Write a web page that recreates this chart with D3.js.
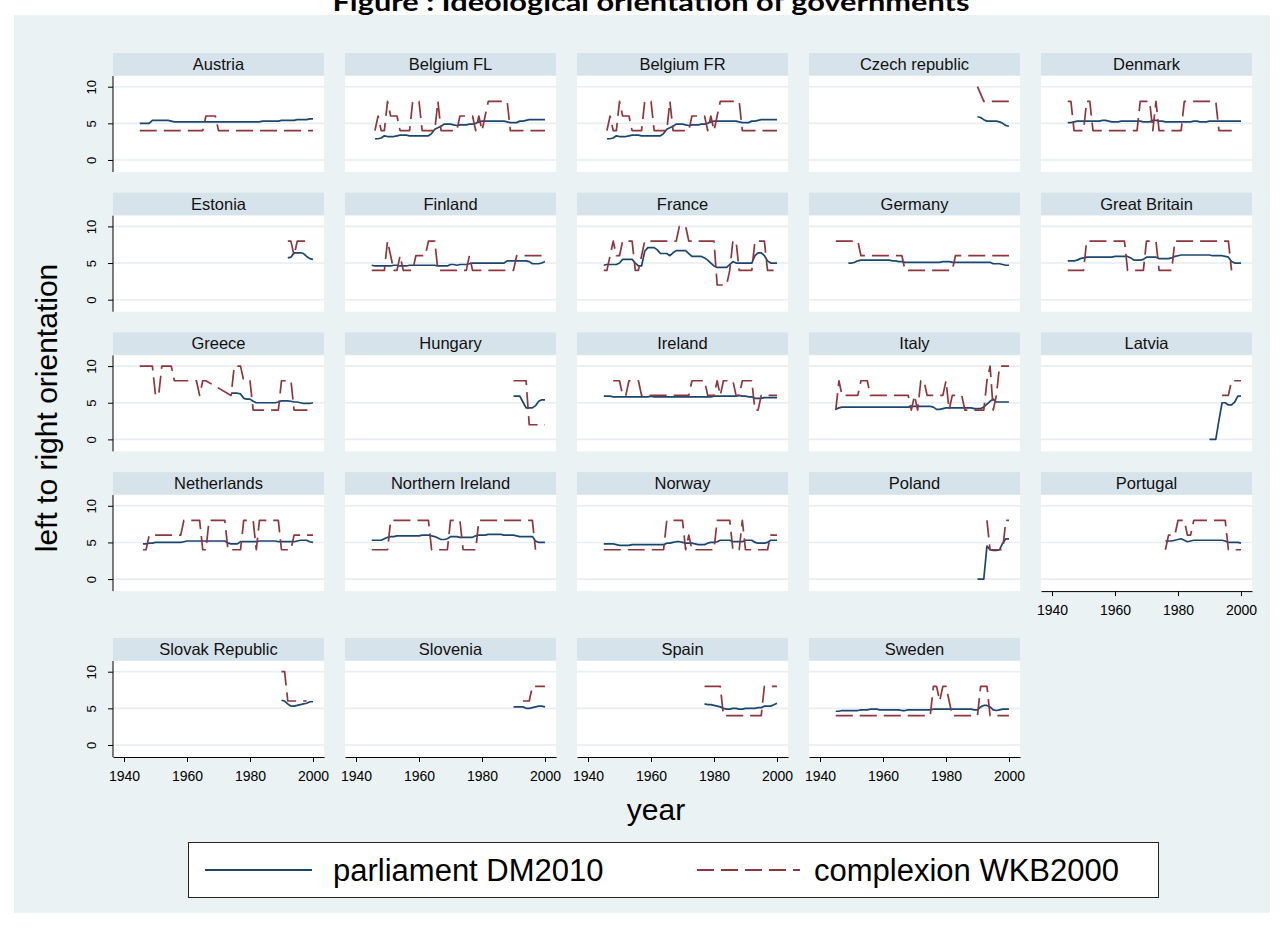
<!DOCTYPE html>
<html><head><meta charset="utf-8">
<script src="https://cdn.jsdelivr.net/npm/d3@7"></script>
<style>body{margin:0;background:#fff;}svg{display:block;}</style>
</head><body>
<svg id="chart" width="1282" height="937"></svg>
<script>
// ---------------- DATA ----------------
const countries = ["Austria","Belgium FL","Belgium FR","Czech republic","Denmark",
  "Estonia","Finland","France","Germany","Great Britain",
  "Greece","Hungary","Ireland","Italy","Latvia",
  "Netherlands","Northern Ireland","Norway","Poland","Portugal",
  "Slovak Republic","Slovenia","Spain","Sweden"];
const parliamentStart = [1945,1946,1946,1990,1945, 1992,1945,1945,1949,1945, 1974,1990,1945,1945,1990, 1946,1945,1945,1990,1976, 1990,1990,1977,1945];
const complexionStart = [1945,1946,1946,1990,1945, 1992,1945,1945,1945,1945, 1945,1990,1948,1945,1994, 1946,1945,1945,1993,1976, 1990,1993,1977,1945];
const xTickYears = [1940,1960,1980,2000];
const yTickValues = [0,5,10];
const legendLabels = ["parliament DM2010","complexion WKB2000"];
const yAxisTitle = "left to right orientation";
const xAxisTitle = "year";
const chartTitle = "Figure : Ideological orientation of governments";

// parliament DM2010 (one value per year from parliamentStart)
const parlAustria = [5.0,5.0,5.0,5.0,5.4, 5.4,5.4,5.4,5.4,5.4, 5.3,5.2,5.2,5.2,5.2, 5.2,5.2,5.2,5.2,5.2,
  5.2,5.2,5.2,5.2,5.2, 5.2,5.2,5.2,5.2,5.2, 5.2,5.2,5.2,5.2,5.2, 5.2,5.2,5.2,5.2,5.3,
  5.3,5.3,5.3,5.3,5.3, 5.4,5.4,5.4,5.4,5.4, 5.5,5.5,5.5,5.5,5.6, 5.6];
const parlBelgiumFL = [2.9,2.9,3.0,3.3,3.2, 3.2,3.2,3.3,3.4,3.4, 3.4,3.3,3.3,3.3,3.3, 3.3,3.3,3.3,3.6,4.2,
  4.4,4.6,4.9,4.9,4.9, 4.8,4.7,4.8,4.8,4.8, 4.9,4.9,5.0,5.2,5.3, 5.3,5.3,5.3,5.3,5.3,
  5.3,5.3,5.2,5.1,5.1, 5.1,5.3,5.3,5.4,5.5, 5.5,5.5,5.5,5.5,5.5];
const parlBelgiumFR = [2.9,2.9,3.0,3.3,3.2, 3.2,3.2,3.3,3.4,3.4, 3.4,3.3,3.3,3.3,3.3, 3.3,3.3,3.3,3.6,4.2,
  4.4,4.6,4.9,4.9,4.9, 4.8,4.7,4.8,4.8,4.8, 4.9,4.9,5.0,5.2,5.3, 5.3,5.3,5.3,5.3,5.3,
  5.3,5.3,5.2,5.1,5.1, 5.1,5.3,5.3,5.4,5.5, 5.5,5.5,5.5,5.5,5.5];
const parlCzech = [5.9,5.8,5.5,5.3,5.3, 5.3,5.3,5.2,5.0,4.7, 4.6];
const parlDenmark = [5.1,5.1,5.2,5.3,5.3, 5.3,5.3,5.3,5.3,5.3, 5.3,5.4,5.4,5.3,5.2, 5.2,5.2,5.3,5.3,5.3,
  5.3,5.3,5.3,5.3,5.2, 5.2,5.2,5.4,5.4,5.3, 5.3,5.2,5.2,5.2,5.2, 5.2,5.2,5.2,5.2,5.2,
  5.3,5.3,5.2,5.2,5.2, 5.3,5.3,5.3,5.3,5.3, 5.3,5.3,5.3,5.3,5.3, 5.3];
const parlEstonia = [5.7,5.8,6.4,6.4,6.4, 6.3,5.9,5.6,5.5];
const parlFinland = [4.7,4.6,4.6,4.6,4.6, 4.6,4.6,4.7,4.7,4.6, 4.6,4.6,4.7,4.7,4.7, 4.7,4.7,4.7,4.7,4.7,
  4.7,4.6,4.6,4.6,4.6, 4.8,4.8,4.7,4.8,4.8, 4.8,4.9,5.0,5.0,5.0, 5.0,5.0,5.0,5.0,5.0,
  5.0,5.0,5.0,5.3,5.3, 5.3,5.3,5.3,5.3,5.3, 5.2,4.9,4.9,4.9,5.0, 5.2];
const parlFrance = [4.7,4.8,4.8,4.8,4.8, 5.0,5.5,5.5,5.5,5.5, 5.0,4.6,4.6,6.6,7.1, 7.1,7.1,6.8,6.3,6.3,
  6.3,6.0,6.4,6.7,6.7, 6.7,6.7,6.3,5.9,5.9, 5.9,5.9,5.7,5.4,5.0, 4.6,4.4,4.4,4.4,4.4,
  4.8,5.2,5.0,5.0,5.0, 5.0,5.0,5.0,6.0,6.4, 6.4,6.0,5.3,5.0,5.0, 5.0];
const parlGermany = [5.0,5.0,5.1,5.3,5.4, 5.4,5.4,5.4,5.4,5.4, 5.4,5.4,5.4,5.4,5.3, 5.3,5.2,5.2,5.1,5.1,
  5.1,5.1,5.1,5.1,5.1, 5.1,5.1,5.1,5.1,5.1, 5.2,5.2,5.2,5.1,5.1, 5.1,5.1,5.1,5.1,5.1,
  5.1,5.1,5.1,5.1,5.1, 5.1,4.9,4.9,4.9,4.8, 4.7,4.7];
const parlGreatBritain = [5.3,5.3,5.3,5.4,5.6, 5.7,5.8,5.8,5.8,5.8, 5.8,5.8,5.8,5.8,5.8, 5.9,5.9,5.9,5.9,5.9,
  5.7,5.4,5.4,5.4,5.5, 5.8,5.8,5.8,5.8,5.6, 5.6,5.6,5.6,5.7,5.9, 6.0,6.1,6.1,6.1,6.1,
  6.1,6.1,6.1,6.1,6.1, 6.1,6.0,6.0,6.0,6.0, 5.9,5.8,5.2,5.0,5.0, 5.0];
const parlGreece = [6.3,6.3,6.3,6.2,5.6, 5.5,5.5,5.2,5.0,5.0, 5.0,5.0,5.0,5.0,5.0, 5.1,5.25,5.25,5.25,5.2,
  5.1,5.1,5.0,4.9,4.9, 4.9,5.0];
const parlHungary = [5.9,5.9,5.9,5.1,4.3, 4.3,4.3,4.6,5.2,5.4, 5.4];
const parlIreland = [5.9,5.9,5.9,5.8,5.8, 5.8,5.8,5.8,5.8,5.8, 5.8,5.8,5.8,5.8,5.8, 5.9,5.8,5.8,5.8,5.8,
  5.8,5.8,5.8,5.8,5.8, 5.8,5.8,5.8,5.8,5.8, 5.8,5.8,5.8,5.8,5.8, 5.9,5.9,5.9,5.9,5.9,
  5.9,5.9,5.9,6.0,5.9, 5.9,5.8,5.8,5.6,5.6, 5.6,5.7,5.7,5.7,5.7, 5.7];
const parlItaly = [4.1,4.3,4.4,4.4,4.4, 4.4,4.4,4.4,4.4,4.4, 4.4,4.4,4.4,4.4,4.4, 4.4,4.4,4.4,4.4,4.4,
  4.4,4.4,4.4,4.4,4.5, 4.5,4.5,4.5,4.5,4.5, 4.5,4.4,4.1,4.1,4.2, 4.3,4.3,4.3,4.3,4.3,
  4.3,4.3,4.3,4.3,4.2, 4.2,4.2,4.4,4.8,5.2, 5.5,5.1,5.1,5.1,5.1, 5.1];
const parlLatvia = [0,0,0,2.6,5.0, 5.0,4.7,4.7,5.1,5.9, 5.9];
const parlNetherlands = [4.8,4.8,4.9,4.9,5.0, 5.0,5.0,5.0,5.0,5.0, 5.0,5.0,5.0,5.1,5.2, 5.2,5.2,5.2,5.2,5.2,
  5.2,5.2,5.2,5.2,5.2, 5.2,5.2,4.9,4.8,4.8, 4.8,5.1,5.1,5.1,5.1, 5.1,5.1,5.2,5.2,5.2,
  5.2,5.2,5.2,5.1,5.1, 5.1,5.1,5.1,5.1,5.2, 5.3,5.3,5.3,5.1,5.0];
const parlNorthernIreland = [5.3,5.3,5.3,5.3,5.5, 5.7,5.8,5.8,5.9,5.9, 5.9,5.9,5.9,5.9,5.9, 5.9,6.0,6.0,6.0,5.9,
  5.8,5.6,5.4,5.4,5.5, 5.8,5.8,5.8,5.7,5.7, 5.7,5.7,5.7,5.9,6.0, 6.0,6.0,6.1,6.1,6.1,
  6.1,6.1,6.0,6.0,6.0, 6.0,5.9,5.8,5.8,5.8, 5.8,5.8,5.2,5.0,5.0, 5.0];
const parlNorway = [4.8,4.8,4.8,4.8,4.7, 4.6,4.6,4.6,4.6,4.7, 4.7,4.7,4.7,4.7,4.7, 4.7,4.7,4.7,4.7,4.7,
  4.9,4.9,5.0,5.1,5.1, 5.0,4.9,4.9,4.9,4.8, 4.7,4.7,4.7,4.9,5.0, 5.0,5.1,5.3,5.3,5.3,
  5.3,5.1,5.1,5.1,5.1, 5.3,5.3,5.3,5.0,4.9, 4.9,4.9,5.0,5.3,5.3, 5.3];
const parlPoland = [0,0,0,4.5,4.0, 3.9,3.9,4.0,4.9,5.5, 5.5];
const parlPortugal = [5.2,5.2,5.2,5.3,5.4, 5.5,5.3,5.1,5.2,5.3, 5.3,5.3,5.3,5.3,5.3, 5.3,5.3,5.3,5.3,5.2,
  5.0,5.0,5.0,5.0,4.9];
const parlSlovak = [6.1,6.0,5.6,5.3,5.3, 5.4,5.5,5.6,5.7,5.9, 5.9];
const parlSlovenia = [5.2,5.2,5.2,5.2,5.0, 5.0,5.1,5.2,5.3,5.3, 5.2];
const parlSpain = [5.6,5.5,5.5,5.4,5.3, 5.2,5.0,4.9,4.9,5.0, 5.0,4.9,4.9,5.0,5.0, 5.0,5.0,5.1,5.1,5.3,
  5.3,5.3,5.5,5.7];
const parlSweden = [4.6,4.6,4.7,4.7,4.7, 4.7,4.7,4.7,4.8,4.8, 4.8,4.9,4.9,4.9,4.8, 4.8,4.8,4.8,4.8,4.8,
  4.8,4.7,4.7,4.8,4.8, 4.8,4.8,4.8,4.8,4.8, 4.8,4.9,4.9,4.9,4.9, 4.9,4.9,4.9,4.9,4.9,
  4.9,4.9,4.9,4.9,4.8, 4.8,5.2,5.4,5.4,5.2, 4.8,4.7,4.8,4.9,4.9, 4.9];

// complexion WKB2000 (one value per year from complexionStart; null = missing)
const compAustria = [4,4,4,4,4, 4,4,4,4,4, 4,4,4,4,4, 4,4,4,4,4, 4,6,6,6,6, 4,4,4,4,4,
  4,4,4,4,4, 4,4,4,4,4, 4,4,4,4,4, 4,4,4,4,4, 4,4,4,4,4, 4];
const compBelgiumFL = [4,6,4,4,8, 6,6,6,4,4, 4,4,8,8,8, 4,4,4,4,4, 8,4,4,4,4, 4,4,6,6,6,
  6,6,4,6,4, 6,8,8,8,8, 8,8,8,4,4, 4,4,4,4,4, 4,4,4,4,4];
const compBelgiumFR = [4,6,4,4,8, 6,6,6,4,4, 4,4,8,8,8, 4,4,4,4,4, 8,4,4,4,4, 4,4,6,6,6,
  6,6,4,6,4, 6,8,8,8,8, 8,8,8,4,4, 4,4,4,4,4, 4,4,4,4,4];
const compCzech = [10,null,8,8,8, 8,8,8,8,8, 8];
const compDenmark = [8,8,4,4,4, 4,8,8,4,4, 4,4,4,4,4, 4,4,4,4,4, 4,4,4,8,8, 8,8,4,8,4,
  4,4,4,4,4, 4,4,8,8,8, 8,8,8,8,8, 8,8,8,4,4, 4,4,4,4,4];
const compEstonia = [8,8,6,8,8, 8,8,8];
const compFinland = [4,4,4,4,4, 8,6,4,4,6, 4,4,4,4,6, 6,6,6,8,8, 8,4,4,4,4, 4,4,4,4,4,
  4,6,4,4,4, 4,4,4,4,4, 4,4,4,4,4, 4,6,6,6,6, 6,6,6,6,6, 6];
const compFrance = [4,4,6,8,6, 6,8,8,8,8, 4,4,6,8,8, 8,8,8,8,8, 8,8,8,8,10, 10,10,8,8,8,
  8,8,8,8,8, 8,2,2,2,2, 4,8,8,4,4, 4,4,4,8,8, 8,8,4,4,4, 4];
const compGermany = [8,8,8,8,8, 8,8,8,6,6, 6,6,6,6,6, 6,6,6,6,6, 6,6,4,4,4, 4,4,4,4,4,
  4,4,4,4,4, 4,4,4,6,6, 6,6,6,6,6, 6,6,6,6,6, 6,6,6,6,6, 6];
const compGreatBritain = [4,4,4,4,4, 4,8,8,8,8, 8,8,8,8,8, 8,8,8,8,4, 4,4,4,4,4, 8,8,8,8,4,
  4,4,4,4,8, 8,8,8,8,8, 8,8,8,8,8, 8,8,8,8,8, 8,8,4];
const compGreece = [10,10,10,10,10, 6,6,10,10,10, 10,8,8,8,8, 8,8,8,8,6, 8,8,null,null,null,
  null,null,null,null,6, 10,10,10,8,8, 8,4,4,4,4, 4,4,4,4,4, 8,8,8,8,4, 4,4,4,4,4];
const compHungary = [8,8,8,8,8, 2,2,2,2,2, 2];
const compIreland = [8,8,8,6,6, 8,8,8,8,6, 6,6,6,6,6, 6,6,6,6,6, 6,6,6,6,6, 8,8,8,8,8,
  6,6,6,8,6, 8,8,8,8,6, 6,8,8,8,8, 4,4,6,6,6, 6,6,6];
const compItaly = [4,8,6,6,6, 6,6,6,8,8, 8,6,6,6,6, 6,6,6,6,6, 6,6,6,6,4, 6,4,8,8,6,
  6,6,6,6,6, 8,4,6,6,6, 6,4,4,4,4, 4,4,4,8,10, 4,6,10,10,10, 10];
const compLatvia = [6,6,6,8,8, 8,8];
const compNetherlands = [4,4,6,6,6, 6,6,6,6,6, 6,6,6,8,8, 8,8,8,8,4, 4,8,8,8,8, 8,8,4,4,4,
  4,4,8,8,8, 8,4,8,8,8, 8,8,8,8,4, 4,4,4,6,6, 6,6,6,6,6];
const compNorthernIreland = [4,4,4,4,4, 4,8,8,8,8, 8,8,8,8,8, 8,8,8,8,4, 4,4,4,4,4, 8,8,8,8,4,
  4,4,4,4,8, 8,8,8,8,8, 8,8,8,8,8, 8,8,8,8,8, 8,8,4];
const compNorway = [4,4,4,4,4, 4,4,4,4,4, 4,4,4,4,4, 4,4,4,4,4, 8,8,8,8,8, 8,4,6,4,4,
  4,4,4,4,4, 4,8,8,8,8, 8,4,4,4,8, 4,4,4,4,4, 4,4,4,6,6, 6];
const compPoland = [8,4,4,4,4, 4,8,8];
const compPortugal = [4,6,6,6,8, 8,8,6,6,8, 8,8,8,8,8, 8,8,8,8,8, 4,4,4,4,4];
const compSlovak = [10,10,6,6,6, 6,6,6,6];
const compSlovenia = [6,6,6,8,8, 8,8,8];
const compSpain = [8,8,8,8,8, 8,4,4,4,4, 4,4,4,4,4, 4,4,4,4,8, 8,8,8,8];
const compSweden = [4,4,4,4,4, 4,4,4,4,4, 4,4,4,4,4, 4,4,4,4,4, 4,4,4,4,4, 4,4,4,4,4,
  4,8,8,6,8, 8,6,4,4,4, 4,4,4,4,4, 4,8,8,8,4, 4,4,4,4,4, 4];

const parliamentSeries = [parlAustria,parlBelgiumFL,parlBelgiumFR,parlCzech,parlDenmark,
  parlEstonia,parlFinland,parlFrance,parlGermany,parlGreatBritain,
  parlGreece,parlHungary,parlIreland,parlItaly,parlLatvia,
  parlNetherlands,parlNorthernIreland,parlNorway,parlPoland,parlPortugal,
  parlSlovak,parlSlovenia,parlSpain,parlSweden];
const complexionSeries = [compAustria,compBelgiumFL,compBelgiumFR,compCzech,compDenmark,
  compEstonia,compFinland,compFrance,compGermany,compGreatBritain,
  compGreece,compHungary,compIreland,compItaly,compLatvia,
  compNetherlands,compNorthernIreland,compNorway,compPoland,compPortugal,
  compSlovak,compSlovenia,compSpain,compSweden];

// ---------------- LAYOUT / STYLE ----------------
const FONT = "'Liberation Sans', Arial, Helvetica, sans-serif";
const NAVY = "#1a476f", MAROON = "#90353b";
const BG = "#eaf2f3", STRIP = "#d7e3ea", GRID = "#e6eef1";
const DASH = "17,7";
const panelW = 211, stripH = 22.5, plotTopOff = 23, plotH = 96;
const colLefts = [113, 345, 577, 809, 1041];
const rowTops = [53, 192.7, 332.4, 472.1, 638];

const svg = d3.select("#chart");
svg.append("rect").attr("x",14).attr("y",15).attr("width",1256).attr("height",898).attr("fill",BG);

svg.append("text").attr("x",651).attr("y",11).attr("text-anchor","middle")
  .attr("font-family","Lato, 'Open Sans', sans-serif").attr("font-weight","bold").attr("font-size",24)
  .attr("textLength",637).attr("lengthAdjust","spacingAndGlyphs")
  .text(chartTitle);

const x = d3.scaleLinear().domain([1936.5, 2003.5]).range([0, panelW]);
const y = d3.scaleLinear().domain([-1.64, 11.46]).range([plotH, 0]);
const lineGen = d3.line().x(d => x(d.year)).y(d => y(d.value));
const toPoints = (start, arr) => arr.map((v,i) => ({year: start + i, value: v})).filter(d => d.value !== null);

countries.forEach((name, i) => {
  const r = Math.floor(i / 5), c = i % 5;
  const g = svg.append("g").attr("transform", `translate(${colLefts[c]},${rowTops[r]})`);
  g.append("rect").attr("width", panelW).attr("height", stripH).attr("fill", STRIP);
  g.append("text").attr("x", panelW/2).attr("y", 17).attr("text-anchor","middle")
    .attr("font-family", FONT).attr("font-size", 16.5).attr("fill","#111").text(name);

  const p = g.append("g").attr("transform", `translate(0,${plotTopOff})`);
  p.append("rect").attr("width", panelW).attr("height", plotH).attr("fill", "#fff");
  p.selectAll("line.grid").data(yTickValues).join("line").attr("class","grid")
    .attr("x1",0).attr("x2",panelW).attr("y1",d=>y(d)).attr("y2",d=>y(d))
    .attr("stroke",GRID).attr("stroke-width",1.6);

  p.append("path").datum(toPoints(parliamentStart[i], parliamentSeries[i]))
    .attr("d", lineGen).attr("fill","none").attr("stroke",NAVY).attr("stroke-width",1.7)
    .attr("stroke-linejoin","round");
  p.append("path").datum(toPoints(complexionStart[i], complexionSeries[i]))
    .attr("d", lineGen).attr("fill","none").attr("stroke",MAROON).attr("stroke-width",1.7)
    .attr("stroke-dasharray",DASH).attr("stroke-linejoin","round");

  if (c === 0) {
    const ya = p.append("g").call(d3.axisLeft(y).tickValues(yTickValues).tickSize(5).tickSizeOuter(0).tickFormat(d3.format("d")));
    ya.select(".domain").attr("stroke","#000").attr("d", `M0,0V${plotH}`);
    ya.selectAll(".tick line").attr("stroke","#000");
    ya.selectAll(".tick text").attr("font-family",FONT).attr("font-size",13).attr("fill","#000")
      .attr("transform","rotate(-90)").attr("x",0).attr("y",-17).attr("dy",0).attr("text-anchor","middle");
  }
  if (r === 4 || i === 19) {
    const xa = p.append("g").attr("transform",`translate(0,${plotH})`)
      .call(d3.axisBottom(x).tickValues(xTickYears).tickSize(5).tickSizeOuter(0).tickPadding(9).tickFormat(d3.format("d")));
    xa.select(".domain").attr("stroke","#000");
    xa.selectAll(".tick line").attr("stroke","#000");
    xa.selectAll(".tick text").attr("font-family",FONT).attr("font-size",14).attr("fill","#000");
  }
});

// axis titles
svg.append("text").attr("transform","translate(57,408) rotate(-90)").attr("text-anchor","middle")
  .attr("font-family",FONT).attr("font-size",30).attr("fill","#000").text(yAxisTitle);
svg.append("text").attr("x",656).attr("y",820).attr("text-anchor","middle")
  .attr("font-family",FONT).attr("font-size",30).attr("fill","#000").text(xAxisTitle);

// legend
svg.append("rect").attr("x",188.5).attr("y",842.5).attr("width",970).attr("height",55)
  .attr("fill","#fff").attr("stroke","#222").attr("stroke-width",1);
const legendItems = [
  {label: legendLabels[0], color: NAVY, dash: null, x1: 205, x2: 312, tx: 333},
  {label: legendLabels[1], color: MAROON, dash: DASH, x1: 697, x2: 800, tx: 814}
];
legendItems.forEach(it => {
  svg.append("line").attr("x1",it.x1).attr("x2",it.x2).attr("y1",870).attr("y2",870)
    .attr("stroke",it.color).attr("stroke-width",2.2).attr("stroke-dasharray",it.dash);
  svg.append("text").attr("x",it.tx).attr("y",881).attr("font-family",FONT).attr("font-size",31)
    .attr("fill","#000").text(it.label);
});
</script>
</body></html>
